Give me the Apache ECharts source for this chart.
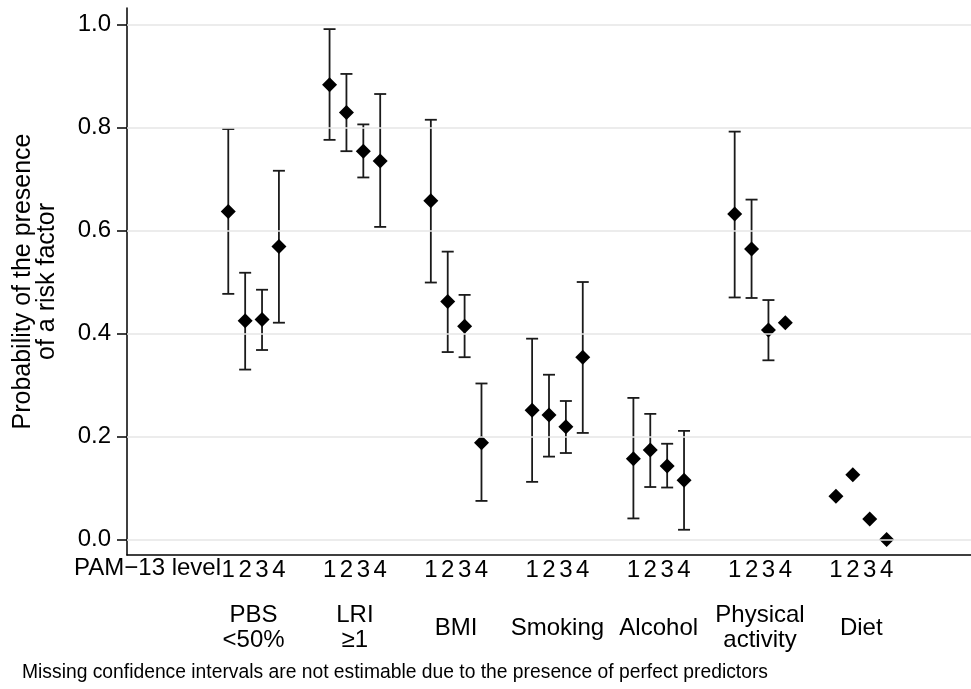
<!DOCTYPE html>
<html>
<head>
<meta charset="utf-8">
<script src="https://cdn.jsdelivr.net/npm/echarts@6/dist/echarts.min.js"></script>
<style>
  html, body { margin: 0; padding: 0; background: #fff; }
  #chart { width: 971px; height: 689px; }
</style>
</head>
<body>
<div id="chart"></div>
<script>
// risk factor groups, PAM-13 levels 1..4
const groups = ['PBS\n<50%', 'LRI\n≥1', 'BMI', 'Smoking', 'Alcohol', 'Physical\nactivity', 'Diet'];
const levels = [1, 2, 3, 4];
const yTicks = [0, 0.2, 0.4, 0.6, 0.8, 1.0];

// estimated probabilities per group (level 1..4)
const pbs      = [0.637, 0.425, 0.427, 0.569];
const lri      = [0.883, 0.829, 0.754, 0.735];
const bmi      = [0.658, 0.462, 0.414, 0.188];
const smoking  = [0.251, 0.242, 0.219, 0.354];
const alcohol  = [0.157, 0.174, 0.143, 0.115];
const physical = [0.632, 0.564, 0.407, 0.421];
const diet     = [0.084, 0.126, 0.040, 0.000];

// 95% CI lower / upper (null = not estimable)
const pbsLo      = [0.477, 0.330, 0.368, 0.421];
const pbsHi      = [0.797, 0.518, 0.485, 0.716];
const lriLo      = [0.776, 0.754, 0.703, 0.607];
const lriHi      = [0.991, 0.904, 0.806, 0.865];
const bmiLo      = [0.499, 0.364, 0.354, 0.075];
const bmiHi      = [0.815, 0.559, 0.475, 0.303];
const smokingLo  = [0.112, 0.161, 0.168, 0.207];
const smokingHi  = [0.390, 0.320, 0.269, 0.500];
const alcoholLo  = [0.041, 0.102, 0.101, 0.019];
const alcoholHi  = [0.275, 0.244, 0.186, 0.211];
const physicalLo = [0.470, 0.469, 0.348, null];
const physicalHi = [0.792, 0.660, 0.465, null];
const dietLo     = [null, null, null, null];
const dietHi     = [null, null, null, null];

const estimates = [pbs, lri, bmi, smoking, alcohol, physical, diet];
const lowers = [pbsLo, lriLo, bmiLo, smokingLo, alcoholLo, physicalLo, dietLo];
const uppers = [pbsHi, lriHi, bmiHi, smokingHi, alcoholHi, physicalHi, dietHi];

const FONT = "'Liberation Sans', Arial, Helvetica, sans-serif";
const STEP = 6; // x units between groups

let points = [];
let bars = [];
let levelPos = [];
let groupPos = [];
groups.forEach(function (g, gi) {
  groupPos.push(gi * STEP + 2.5);
  levels.forEach(function (lv, li) {
    let x = gi * STEP + lv;
    levelPos.push(x);
    points.push([x, estimates[gi][li]]);
    if (lowers[gi][li] != null) {
      bars.push([x, lowers[gi][li], uppers[gi][li]]);
    }
  });
});

let myChart = echarts.init(document.getElementById('chart'));

let option = {
  animation: false,
  backgroundColor: '#fff',
  textStyle: { fontFamily: FONT },
  grid: { left: 127, right: 0, top: 8, bottom: 134, containLabel: false },
  xAxis: [
    {
      type: 'value',
      min: -5,
      max: 45,
      axisLine: { show: true, onZero: false, lineStyle: { color: '#000', width: 1.5 } },
      axisTick: { show: false },
      splitLine: { show: false },
      axisLabel: {
        customValues: levelPos,
        formatter: function (v) { return String(levels[(Math.round(v) - 1) % STEP]); },
        color: '#000',
        fontSize: 24,
        fontFamily: FONT,
        margin: 3
      }
    },
    {
      type: 'value',
      min: -5,
      max: 45,
      position: 'bottom',
      offset: 73,
      axisLine: { show: false },
      axisTick: { show: false },
      splitLine: { show: false },
      axisLabel: {
        customValues: groupPos,
        formatter: function (v) { return groups[Math.round((v - 2.5) / STEP)]; },
        color: '#000',
        fontSize: 24,
        lineHeight: 25,
        fontFamily: FONT,
        verticalAlign: 'middle',
        margin: 0
      }
    }
  ],
  yAxis: {
    type: 'value',
    min: -0.03,
    max: 1.032,
    name: 'Probability of the presence\nof a risk factor',
    nameLocation: 'middle',
    nameRotate: 90,
    nameGap: 68,
    nameTextStyle: { color: '#000', fontSize: 25, lineHeight: 24, fontFamily: FONT },
    axisLine: { show: true, onZero: false, lineStyle: { color: '#000', width: 1.5 } },
    axisTick: { show: true, length: 10, customValues: yTicks, lineStyle: { color: '#000', width: 1.5 } },
    splitLine: { show: false },
    axisLabel: {
      customValues: yTicks,
      formatter: function (v) { return v.toFixed(1); },
      color: '#000',
      fontSize: 24,
      fontFamily: FONT,
      margin: 16
    }
  },
  graphic: [
    {
      type: 'text',
      right: 971 - 221,
      top: 556,
      style: { text: 'PAM\u221213 level', font: '24px ' + FONT, fill: '#000', textAlign: 'right' }
    },
    {
      type: 'text',
      left: 22,
      top: 663,
      style: { text: 'Missing confidence intervals are not estimable due to the presence of perfect predictors', font: '19.3px ' + FONT, fill: '#000' }
    }
  ],
  series: [
    {
      // horizontal grid lines
      type: 'line',
      data: [],
      z: 0,
      markLine: {
        silent: true,
        symbol: ['none', 'none'],
        label: { show: false },
        lineStyle: { color: '#e6e6e6', width: 1.5, type: 'solid' },
        data: yTicks.map(function (v) { return { yAxis: v }; })
      }
    },
    {
      type: 'custom',
      z: 2,
      data: bars,
      renderItem: function (params, api) {
        let top = api.coord([api.value(0), api.value(2)]);
        let bot = api.coord([api.value(0), api.value(1)]);
        let half = 6;
        let style = { stroke: '#1a1a1a', lineWidth: 1.8 };
        return {
          type: 'group',
          children: [
            { type: 'line', shape: { x1: top[0], y1: top[1], x2: bot[0], y2: bot[1] }, style: style },
            { type: 'line', shape: { x1: top[0] - half, y1: top[1], x2: top[0] + half, y2: top[1] }, style: style },
            { type: 'line', shape: { x1: bot[0] - half, y1: bot[1], x2: bot[0] + half, y2: bot[1] }, style: style }
          ]
        };
      }
    },
    {
      type: 'scatter',
      z: 3,
      symbol: 'diamond',
      symbolSize: 15,
      itemStyle: { color: '#000', opacity: 1 },
      data: points
    }
  ]
};

myChart.setOption(option);

window.addEventListener('resize', function () {
  myChart.resize();
});
</script>
</body>
</html>
